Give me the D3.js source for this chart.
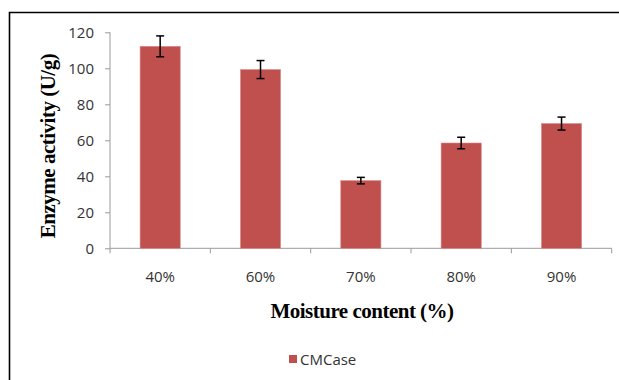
<!DOCTYPE html>
<html><head><meta charset="utf-8">
<script src="https://cdn.jsdelivr.net/npm/d3@7"></script>
<style>body{margin:0;background:#fff}svg{display:block}</style>
</head><body>
<svg id="c" width="619" height="380"></svg>
<script>
const categories = ["40%","60%","70%","80%","90%"];
const values = [112.2, 99.3, 37.6, 58.5, 69.3];
const errors = [5.8, 5.0, 1.8, 3.2, 3.6];
const yTicks = [0,20,40,60,80,100,120];
const seriesName = "CMCase";

const svg = d3.select("#c");
const m = {left:110, right:611.7, top:32.3, bottom:248.3};
const x = d3.scaleBand().domain(categories).range([m.left, m.right]).paddingInner(0.6).paddingOuter(0.3);
const y = d3.scaleLinear().domain([0,120]).range([m.bottom, m.top]);
const sans = "'Open Sans', Lato, sans-serif";
const serif = "'Liberation Serif', 'Times New Roman', serif";
const textColor = "#333";

// frame
svg.append("path").attr("d","M9.5,380 L9.5,12.5 L619,12.5").attr("fill","none").attr("stroke","#000").attr("stroke-width",1.6);

const axisColor = "#9a9a9a";
// y axis
const ya = svg.append("g").attr("transform",`translate(${m.left},0)`)
  .call(d3.axisLeft(y).tickValues(yTicks).tickSize(5).tickPadding(11));
ya.selectAll("path,line").attr("stroke",axisColor);
ya.select(".domain").attr("d",`M0,${m.top}V${m.bottom}`);
ya.selectAll("text").attr("font-family",sans).attr("font-size",15).attr("fill",textColor);

// x axis with ticks at band boundaries
const xa = svg.append("g").attr("transform",`translate(0,${m.bottom})`);
xa.append("line").attr("x1",m.left).attr("x2",m.right).attr("stroke",axisColor);
const bounds = d3.range(categories.length+1).map(i => m.left + i*(m.right-m.left)/categories.length);
xa.selectAll("line.t").data(bounds).join("line").attr("class","t")
  .attr("x1",d=>d).attr("x2",d=>d).attr("y1",0).attr("y2",5).attr("stroke",axisColor);
xa.selectAll("text").data(categories).join("text")
  .attr("x",d=>x(d)+x.bandwidth()/2).attr("y",34)
  .attr("text-anchor","middle").attr("font-family",sans).attr("font-size",15).attr("fill",textColor)
  .text(d=>d);

// bars
const data = categories.map((c,i)=>({c, v:values[i], e:errors[i]}));
svg.selectAll("rect.bar").data(data).join("rect").attr("class","bar")
  .attr("x",d=>x(d.c)).attr("width",x.bandwidth())
  .attr("y",d=>y(d.v)).attr("height",d=>y(0)-y(d.v))
  .attr("fill","#c0504d").attr("stroke","#d98a88").attr("stroke-width",0.6);

// error bars
const eb = svg.selectAll("g.eb").data(data).join("g").attr("class","eb")
  .attr("transform",d=>`translate(${x(d.c)+x.bandwidth()/2},0)`);
eb.append("line").attr("y1",d=>y(d.v+d.e)).attr("y2",d=>y(d.v-d.e)).attr("stroke","#000").attr("stroke-width",1.5);
eb.append("line").attr("x1",-4).attr("x2",4).attr("y1",d=>y(d.v+d.e)).attr("y2",d=>y(d.v+d.e)).attr("stroke","#000").attr("stroke-width",1.5);
eb.append("line").attr("x1",-4).attr("x2",4).attr("y1",d=>y(d.v-d.e)).attr("y2",d=>y(d.v-d.e)).attr("stroke","#000").attr("stroke-width",1.5);

// axis titles
svg.append("text").attr("x",362).attr("y",318).attr("text-anchor","middle")
  .attr("font-family",serif).attr("font-weight","bold").attr("font-size",21).attr("letter-spacing",-0.5)
  .text("Moisture content (%)");
svg.append("text").attr("transform","translate(55,146) rotate(-90)").attr("text-anchor","middle")
  .attr("font-family",serif).attr("font-weight","bold").attr("font-size",21).attr("letter-spacing",-0.5)
  .text("Enzyme activity (U/g)");

// legend
const lg = svg.append("g").attr("transform","translate(289,355)");
lg.append("rect").attr("width",8).attr("height",8).attr("fill","#c0504d");
lg.append("text").attr("x",11).attr("y",10).attr("font-family",sans).attr("font-size",15).attr("fill",textColor).text(seriesName);
</script>
</body></html>
